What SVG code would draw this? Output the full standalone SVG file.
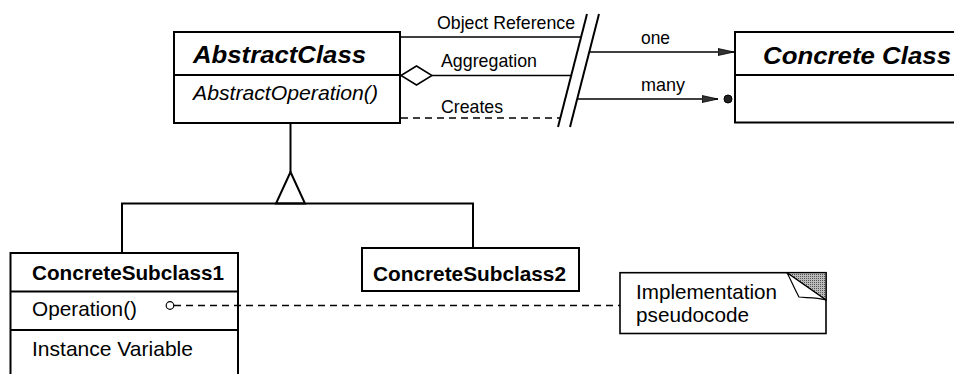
<svg xmlns="http://www.w3.org/2000/svg" width="954" height="374" viewBox="0 0 954 374">
<style>
text{font-family:"Liberation Sans",Arial,Helvetica,sans-serif;fill:#000}
.box{fill:#fff;stroke:#000;stroke-width:2}
.div{stroke:#000;stroke-width:2}
.title{font-size:23.5px;font-weight:bold;font-style:italic}
.bold{font-size:21px;font-weight:bold}
.op{font-size:21px;font-style:italic}
.txt{font-size:21px}
.lbl{font-size:18.5px}
.ln{stroke:#000;stroke-width:1.3;fill:none}
.thick{stroke:#000;stroke-width:2;fill:none}
.dash{stroke:#000;stroke-width:1.3;fill:none;stroke-dasharray:7 5}
</style>
<defs>
<marker id="arr" viewBox="0 0 16 8" refX="16" refY="4" markerWidth="16" markerHeight="8" markerUnits="userSpaceOnUse" orient="auto">
<path d="M0,0.5 L16,4 L0,7.5 Z" fill="#333" stroke="#000" stroke-width="0.8"/>
</marker>
<pattern id="dots" width="2" height="2" patternUnits="userSpaceOnUse">
<rect width="2" height="2" fill="#bbb"/>
<rect width="1" height="1" fill="#555"/>
</pattern>
</defs>
<rect width="954" height="374" fill="#fff"/>

<g id="abstract-class">
<rect class="box" x="174" y="32" width="226" height="91"/>
<line class="div" x1="174" y1="75" x2="400" y2="75"/>
<text class="title" x="193" y="63" textLength="173" lengthAdjust="spacingAndGlyphs">AbstractClass</text>
<text class="op" x="193" y="100" textLength="185" lengthAdjust="spacingAndGlyphs">AbstractOperation()</text>
</g>

<g id="concrete-class">
<rect class="box" x="735" y="32" width="240" height="90.5"/>
<line class="div" x1="735" y1="75" x2="975" y2="75"/>
<text class="title" x="763" y="64" textLength="188" lengthAdjust="spacingAndGlyphs">Concrete Class</text>
</g>

<g id="concrete-subclass1">
<rect class="box" x="10.5" y="253" width="227.5" height="140"/>
<line class="div" x1="10.5" y1="291.5" x2="238" y2="291.5"/>
<line class="div" x1="10.5" y1="330" x2="238" y2="330"/>
<text class="bold" x="32" y="280" textLength="192" lengthAdjust="spacingAndGlyphs">ConcreteSubclass1</text>
<text class="txt" x="32" y="316" textLength="105" lengthAdjust="spacingAndGlyphs">Operation()</text>
<text class="txt" x="32" y="356" textLength="161" lengthAdjust="spacingAndGlyphs">Instance Variable</text>
</g>

<g id="concrete-subclass2">
<rect class="box" x="362" y="248" width="217" height="43"/>
<text class="bold" x="373" y="281" textLength="193" lengthAdjust="spacingAndGlyphs">ConcreteSubclass2</text>
</g>

<g id="note">
<rect x="620" y="272.7" width="206" height="60.8" fill="#fff" stroke="#000" stroke-width="1.6"/>
<polygon points="787,272.7 826,272.7 826,300" fill="url(#dots)" stroke="#000" stroke-width="1.2"/>
<path d="M787,272.7 L826,300 C815,297 805,298 799,297 C795,290 791,280 787,272.7 Z" fill="#fff" stroke="#000" stroke-width="1.2"/>
<text class="txt" x="636" y="299" textLength="141" lengthAdjust="spacingAndGlyphs">Implementation</text>
<text class="txt" x="636" y="322" textLength="113" lengthAdjust="spacingAndGlyphs">pseudocode</text>
</g>

<g id="connectors">
<line class="ln" x1="400" y1="37" x2="581" y2="37"/>
<line class="ln" x1="432" y1="75.5" x2="571" y2="75.5"/>
<polygon points="401,75.5 416.5,66 432,75.5 416.5,85" fill="#fff" stroke="#000" stroke-width="1.5"/>
<line class="dash" x1="401" y1="118" x2="560" y2="118"/>
<line class="thick" x1="587" y1="14" x2="558" y2="127"/>
<line class="thick" x1="599" y1="14" x2="570" y2="127"/>
<line class="ln" x1="589" y1="52" x2="734" y2="52" marker-end="url(#arr)"/>
<line class="ln" x1="577" y1="99" x2="718" y2="99" marker-end="url(#arr)"/>
<circle cx="728" cy="99" r="4" fill="#222" stroke="#000" stroke-width="1"/>
<line class="thick" x1="290.5" y1="123" x2="290.5" y2="172"/>
<polygon points="290.5,172 276,203.5 305,203.5" fill="#fff" stroke="#000" stroke-width="2"/>
<polyline class="thick" points="122,253 122,203.5 473,203.5 473,248"/>
<line class="dash" x1="174" y1="305.5" x2="620" y2="305.5"/>
<circle cx="170" cy="305.5" r="3.8" fill="#fff" stroke="#000" stroke-width="1.2"/>
</g>

<g id="labels">
<text class="lbl" x="437" y="29" textLength="138" lengthAdjust="spacingAndGlyphs">Object Reference</text>
<text class="lbl" x="441" y="67" textLength="96" lengthAdjust="spacingAndGlyphs">Aggregation</text>
<text class="lbl" x="441" y="113" textLength="62" lengthAdjust="spacingAndGlyphs">Creates</text>
<text class="lbl" x="641" y="44" textLength="29" lengthAdjust="spacingAndGlyphs">one</text>
<text class="lbl" x="641" y="91" textLength="44" lengthAdjust="spacingAndGlyphs">many</text>
</g>
</svg>
